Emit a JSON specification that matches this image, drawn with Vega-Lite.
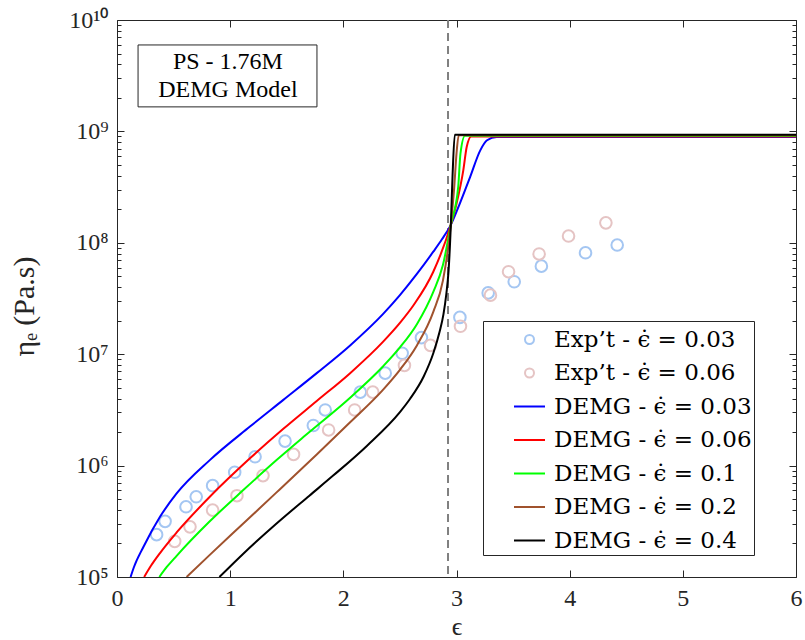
{
 "$schema": "https://vega.github.io/schema/vega-lite/v6.json",
 "width": 679,
 "height": 557,
 "autosize": {"type": "none"},
 "padding": {"left": 117, "top": 20, "right": 9, "bottom": 63},
 "background": "white",
 "config": {
  "view": {"stroke": null},
  "font": "Liberation Serif",
  "axis": {"grid": false, "domainColor": "#262626", "tickColor": "#262626", "labelColor": "#262626", "titleColor": "#262626", "labelFont": "Liberation Serif", "titleFont": "Liberation Serif", "labelFontSize": 24, "titleFontWeight": "normal", "domainWidth": 1, "tickWidth": 1, "labelOverlap": false, "labelFlush": false}
 },
 "datasets": {
  "box": [{"x": 0.186, "x2": 1.767, "y": 1.66e9, "y2": 5.97e9}],
  "note": [{"x": 0.98, "y": 4.2e9, "label": "PS - 1.76M"}, {"x": 0.98, "y": 2.36e9, "label": "DEMG Model"}],
  "vline": [{"x": 2.925}],
  "frame": [{"x": 0, "y": 1e5}, {"x": 6, "y": 1e10}],
  "exp": [
   {"series": "Exp\u2019t - \u03f5\u0307 = 0.03", "x": 0.35, "y": 2.40e5},
   {"series": "Exp\u2019t - \u03f5\u0307 = 0.03", "x": 0.425, "y": 3.16e5},
   {"series": "Exp\u2019t - \u03f5\u0307 = 0.03", "x": 0.61, "y": 4.27e5},
   {"series": "Exp\u2019t - \u03f5\u0307 = 0.03", "x": 0.70, "y": 5.25e5},
   {"series": "Exp\u2019t - \u03f5\u0307 = 0.03", "x": 0.845, "y": 6.61e5},
   {"series": "Exp\u2019t - \u03f5\u0307 = 0.03", "x": 1.04, "y": 8.71e5},
   {"series": "Exp\u2019t - \u03f5\u0307 = 0.03", "x": 1.22, "y": 1.20e6},
   {"series": "Exp\u2019t - \u03f5\u0307 = 0.03", "x": 1.485, "y": 1.66e6},
   {"series": "Exp\u2019t - \u03f5\u0307 = 0.03", "x": 1.735, "y": 2.29e6},
   {"series": "Exp\u2019t - \u03f5\u0307 = 0.03", "x": 1.84, "y": 3.16e6},
   {"series": "Exp\u2019t - \u03f5\u0307 = 0.03", "x": 2.15, "y": 4.57e6},
   {"series": "Exp\u2019t - \u03f5\u0307 = 0.03", "x": 2.37, "y": 6.76e6},
   {"series": "Exp\u2019t - \u03f5\u0307 = 0.03", "x": 2.52, "y": 1.02e7},
   {"series": "Exp\u2019t - \u03f5\u0307 = 0.03", "x": 2.69, "y": 1.41e7},
   {"series": "Exp\u2019t - \u03f5\u0307 = 0.03", "x": 3.03, "y": 2.14e7},
   {"series": "Exp\u2019t - \u03f5\u0307 = 0.03", "x": 3.28, "y": 3.55e7},
   {"series": "Exp\u2019t - \u03f5\u0307 = 0.03", "x": 3.51, "y": 4.47e7},
   {"series": "Exp\u2019t - \u03f5\u0307 = 0.03", "x": 3.75, "y": 6.17e7},
   {"series": "Exp\u2019t - \u03f5\u0307 = 0.03", "x": 4.14, "y": 8.13e7},
   {"series": "Exp\u2019t - \u03f5\u0307 = 0.03", "x": 4.42, "y": 9.55e7},
   {"series": "Exp\u2019t - \u03f5\u0307 = 0.06", "x": 0.51, "y": 2.09e5},
   {"series": "Exp\u2019t - \u03f5\u0307 = 0.06", "x": 0.645, "y": 2.82e5},
   {"series": "Exp\u2019t - \u03f5\u0307 = 0.06", "x": 0.845, "y": 3.98e5},
   {"series": "Exp\u2019t - \u03f5\u0307 = 0.06", "x": 1.06, "y": 5.37e5},
   {"series": "Exp\u2019t - \u03f5\u0307 = 0.06", "x": 1.29, "y": 8.13e5},
   {"series": "Exp\u2019t - \u03f5\u0307 = 0.06", "x": 1.56, "y": 1.26e6},
   {"series": "Exp\u2019t - \u03f5\u0307 = 0.06", "x": 1.87, "y": 2.09e6},
   {"series": "Exp\u2019t - \u03f5\u0307 = 0.06", "x": 2.10, "y": 3.16e6},
   {"series": "Exp\u2019t - \u03f5\u0307 = 0.06", "x": 2.26, "y": 4.57e6},
   {"series": "Exp\u2019t - \u03f5\u0307 = 0.06", "x": 2.54, "y": 7.94e6},
   {"series": "Exp\u2019t - \u03f5\u0307 = 0.06", "x": 2.77, "y": 1.20e7},
   {"series": "Exp\u2019t - \u03f5\u0307 = 0.06", "x": 3.035, "y": 1.78e7},
   {"series": "Exp\u2019t - \u03f5\u0307 = 0.06", "x": 3.30, "y": 3.39e7},
   {"series": "Exp\u2019t - \u03f5\u0307 = 0.06", "x": 3.46, "y": 5.50e7},
   {"series": "Exp\u2019t - \u03f5\u0307 = 0.06", "x": 3.73, "y": 7.94e7},
   {"series": "Exp\u2019t - \u03f5\u0307 = 0.06", "x": 3.99, "y": 1.15e8},
   {"series": "Exp\u2019t - \u03f5\u0307 = 0.06", "x": 4.32, "y": 1.51e8}
  ],
  "lines": [
   {"series": "DEMG - \u03f5\u0307 = 0.03", "x": 0.12, "y": 1e5},
   {"series": "DEMG - \u03f5\u0307 = 0.03", "x": 0.15, "y": 1.23e5},
   {"series": "DEMG - \u03f5\u0307 = 0.03", "x": 0.233, "y": 1.86e5},
   {"series": "DEMG - \u03f5\u0307 = 0.03", "x": 0.38, "y": 3.47e5},
   {"series": "DEMG - \u03f5\u0307 = 0.03", "x": 0.527, "y": 5.62e5},
   {"series": "DEMG - \u03f5\u0307 = 0.03", "x": 0.82, "y": 1.12e6},
   {"series": "DEMG - \u03f5\u0307 = 0.03", "x": 1.175, "y": 2.24e6},
   {"series": "DEMG - \u03f5\u0307 = 0.03", "x": 1.47, "y": 3.89e6},
   {"series": "DEMG - \u03f5\u0307 = 0.03", "x": 1.765, "y": 6.76e6},
   {"series": "DEMG - \u03f5\u0307 = 0.03", "x": 2.06, "y": 1.20e7},
   {"series": "DEMG - \u03f5\u0307 = 0.03", "x": 2.35, "y": 2.29e7},
   {"series": "DEMG - \u03f5\u0307 = 0.03", "x": 2.5, "y": 3.39e7},
   {"series": "DEMG - \u03f5\u0307 = 0.03", "x": 2.65, "y": 5.25e7},
   {"series": "DEMG - \u03f5\u0307 = 0.03", "x": 2.795, "y": 8.32e7},
   {"series": "DEMG - \u03f5\u0307 = 0.03", "x": 2.87, "y": 1.07e8},
   {"series": "DEMG - \u03f5\u0307 = 0.03", "x": 2.95, "y": 1.45e8},
   {"series": "DEMG - \u03f5\u0307 = 0.03", "x": 3.03, "y": 2.26e8},
   {"series": "DEMG - \u03f5\u0307 = 0.03", "x": 3.12, "y": 3.89e8},
   {"series": "DEMG - \u03f5\u0307 = 0.03", "x": 3.21, "y": 6.76e8},
   {"series": "DEMG - \u03f5\u0307 = 0.03", "x": 3.27, "y": 8.32e8},
   {"series": "DEMG - \u03f5\u0307 = 0.03", "x": 3.355, "y": 8.91e8},
   {"series": "DEMG - \u03f5\u0307 = 0.03", "x": 6, "y": 8.91e8},
   {"series": "DEMG - \u03f5\u0307 = 0.06", "x": 0.24, "y": 1e5},
   {"series": "DEMG - \u03f5\u0307 = 0.06", "x": 0.30, "y": 1.26e5},
   {"series": "DEMG - \u03f5\u0307 = 0.06", "x": 0.38, "y": 1.64e5},
   {"series": "DEMG - \u03f5\u0307 = 0.06", "x": 0.527, "y": 2.51e5},
   {"series": "DEMG - \u03f5\u0307 = 0.06", "x": 0.82, "y": 5.25e5},
   {"series": "DEMG - \u03f5\u0307 = 0.06", "x": 1.17, "y": 1.15e6},
   {"series": "DEMG - \u03f5\u0307 = 0.06", "x": 1.47, "y": 2.14e6},
   {"series": "DEMG - \u03f5\u0307 = 0.06", "x": 1.765, "y": 3.80e6},
   {"series": "DEMG - \u03f5\u0307 = 0.06", "x": 2.06, "y": 6.76e6},
   {"series": "DEMG - \u03f5\u0307 = 0.06", "x": 2.35, "y": 1.29e7},
   {"series": "DEMG - \u03f5\u0307 = 0.06", "x": 2.5, "y": 1.91e7},
   {"series": "DEMG - \u03f5\u0307 = 0.06", "x": 2.62, "y": 2.75e7},
   {"series": "DEMG - \u03f5\u0307 = 0.06", "x": 2.795, "y": 5.50e7},
   {"series": "DEMG - \u03f5\u0307 = 0.06", "x": 2.95, "y": 1.45e8},
   {"series": "DEMG - \u03f5\u0307 = 0.06", "x": 3.0, "y": 2.24e8},
   {"series": "DEMG - \u03f5\u0307 = 0.06", "x": 3.06, "y": 4.47e8},
   {"series": "DEMG - \u03f5\u0307 = 0.06", "x": 3.09, "y": 7.24e8},
   {"series": "DEMG - \u03f5\u0307 = 0.06", "x": 3.13, "y": 9.02e8},
   {"series": "DEMG - \u03f5\u0307 = 0.06", "x": 6, "y": 9.02e8},
   {"series": "DEMG - \u03f5\u0307 = 0.1", "x": 0.374, "y": 1e5},
   {"series": "DEMG - \u03f5\u0307 = 0.1", "x": 0.44, "y": 1.23e5},
   {"series": "DEMG - \u03f5\u0307 = 0.1", "x": 0.527, "y": 1.55e5},
   {"series": "DEMG - \u03f5\u0307 = 0.1", "x": 0.82, "y": 3.16e5},
   {"series": "DEMG - \u03f5\u0307 = 0.1", "x": 1.116, "y": 6.03e5},
   {"series": "DEMG - \u03f5\u0307 = 0.1", "x": 1.41, "y": 1.12e6},
   {"series": "DEMG - \u03f5\u0307 = 0.1", "x": 1.70, "y": 2.00e6},
   {"series": "DEMG - \u03f5\u0307 = 0.1", "x": 2.06, "y": 4.07e6},
   {"series": "DEMG - \u03f5\u0307 = 0.1", "x": 2.35, "y": 7.76e6},
   {"series": "DEMG - \u03f5\u0307 = 0.1", "x": 2.5, "y": 1.15e7},
   {"series": "DEMG - \u03f5\u0307 = 0.1", "x": 2.65, "y": 1.86e7},
   {"series": "DEMG - \u03f5\u0307 = 0.1", "x": 2.795, "y": 3.63e7},
   {"series": "DEMG - \u03f5\u0307 = 0.1", "x": 2.88, "y": 6.31e7},
   {"series": "DEMG - \u03f5\u0307 = 0.1", "x": 2.95, "y": 1.45e8},
   {"series": "DEMG - \u03f5\u0307 = 0.1", "x": 3.015, "y": 3.16e8},
   {"series": "DEMG - \u03f5\u0307 = 0.1", "x": 3.035, "y": 6.31e8},
   {"series": "DEMG - \u03f5\u0307 = 0.1", "x": 3.075, "y": 9.12e8},
   {"series": "DEMG - \u03f5\u0307 = 0.1", "x": 6, "y": 9.12e8},
   {"series": "DEMG - \u03f5\u0307 = 0.2", "x": 0.615, "y": 1e5},
   {"series": "DEMG - \u03f5\u0307 = 0.2", "x": 0.82, "y": 1.58e5},
   {"series": "DEMG - \u03f5\u0307 = 0.2", "x": 1.116, "y": 3.02e5},
   {"series": "DEMG - \u03f5\u0307 = 0.2", "x": 1.41, "y": 5.75e5},
   {"series": "DEMG - \u03f5\u0307 = 0.2", "x": 1.765, "y": 1.26e6},
   {"series": "DEMG - \u03f5\u0307 = 0.2", "x": 2.06, "y": 2.45e6},
   {"series": "DEMG - \u03f5\u0307 = 0.2", "x": 2.35, "y": 4.79e6},
   {"series": "DEMG - \u03f5\u0307 = 0.2", "x": 2.5, "y": 7.24e6},
   {"series": "DEMG - \u03f5\u0307 = 0.2", "x": 2.65, "y": 1.20e7},
   {"series": "DEMG - \u03f5\u0307 = 0.2", "x": 2.795, "y": 2.40e7},
   {"series": "DEMG - \u03f5\u0307 = 0.2", "x": 2.88, "y": 4.57e7},
   {"series": "DEMG - \u03f5\u0307 = 0.2", "x": 2.95, "y": 1.45e8},
   {"series": "DEMG - \u03f5\u0307 = 0.2", "x": 2.98, "y": 3.16e8},
   {"series": "DEMG - \u03f5\u0307 = 0.2", "x": 3.0, "y": 6.31e8},
   {"series": "DEMG - \u03f5\u0307 = 0.2", "x": 3.02, "y": 9.23e8},
   {"series": "DEMG - \u03f5\u0307 = 0.2", "x": 6, "y": 9.23e8},
   {"series": "DEMG - \u03f5\u0307 = 0.4", "x": 0.905, "y": 1e5},
   {"series": "DEMG - \u03f5\u0307 = 0.4", "x": 1.116, "y": 1.62e5},
   {"series": "DEMG - \u03f5\u0307 = 0.4", "x": 1.41, "y": 3.02e5},
   {"series": "DEMG - \u03f5\u0307 = 0.4", "x": 1.70, "y": 5.37e5},
   {"series": "DEMG - \u03f5\u0307 = 0.4", "x": 1.91, "y": 8.13e5},
   {"series": "DEMG - \u03f5\u0307 = 0.4", "x": 2.21, "y": 1.51e6},
   {"series": "DEMG - \u03f5\u0307 = 0.4", "x": 2.50, "y": 3.02e6},
   {"series": "DEMG - \u03f5\u0307 = 0.4", "x": 2.59, "y": 3.98e6},
   {"series": "DEMG - \u03f5\u0307 = 0.4", "x": 2.71, "y": 6.31e6},
   {"series": "DEMG - \u03f5\u0307 = 0.4", "x": 2.795, "y": 1.02e7},
   {"series": "DEMG - \u03f5\u0307 = 0.4", "x": 2.85, "y": 1.58e7},
   {"series": "DEMG - \u03f5\u0307 = 0.4", "x": 2.885, "y": 2.29e7},
   {"series": "DEMG - \u03f5\u0307 = 0.4", "x": 2.91, "y": 3.47e7},
   {"series": "DEMG - \u03f5\u0307 = 0.4", "x": 2.93, "y": 5.62e7},
   {"series": "DEMG - \u03f5\u0307 = 0.4", "x": 2.95, "y": 1.45e8},
   {"series": "DEMG - \u03f5\u0307 = 0.4", "x": 2.965, "y": 3.98e8},
   {"series": "DEMG - \u03f5\u0307 = 0.4", "x": 2.985, "y": 9.33e8},
   {"series": "DEMG - \u03f5\u0307 = 0.4", "x": 6, "y": 9.33e8}
  ]
 },
 "layer": [
  {
   "layer": [
    {
     "data": {"name": "box"},
     "mark": {"type": "rect", "fill": "white", "stroke": "#262626", "strokeWidth": 1},
     "encoding": {
      "x": {"field": "x", "type": "quantitative", "scale": {"domain": [0, 6]},
       "axis": {"values": [0, 1, 2, 3, 4, 5, 6], "format": "d", "title": "\u03f5", "titleFontSize": 26, "titleY": 57, "titleBaseline": "alphabetic", "tickSize": -7, "labelPadding": 16}},
      "x2": {"field": "x2"},
      "y": {"field": "y", "type": "quantitative", "scale": {"type": "log", "domain": [1e5, 1e10]},
       "axis": {
        "values": [1e5, 2e5, 3e5, 4e5, 5e5, 6e5, 7e5, 8e5, 9e5, 1e6, 2e6, 3e6, 4e6, 5e6, 6e6, 7e6, 8e6, 9e6, 1e7, 2e7, 3e7, 4e7, 5e7, 6e7, 7e7, 8e7, 9e7, 1e8, 2e8, 3e8, 4e8, 5e8, 6e8, 7e8, 8e8, 9e8, 1e9, 2e9, 3e9, 4e9, 5e9, 6e9, 7e9, 8e9, 9e9, 1e10],
        "labelExpr": "datum.value==1e5?'10\u2075':datum.value==1e6?'10\u2076':datum.value==1e7?'10\u2077':datum.value==1e8?'10\u2078':datum.value==1e9?'10\u2079':datum.value==1e10?'10\u00b9\u2070':''",
        "tickSize": {"condition": {"test": "datum.value==1e5||datum.value==1e6||datum.value==1e7||datum.value==1e8||datum.value==1e9||datum.value==1e10", "value": -7}, "value": -4},
        "labelPadding": 16,
        "title": "\u03b7\u2091 (Pa.s)", "titleFontSize": 30, "titleAngle": -90, "titleX": -84, "titleY": 286, "titleAlign": "center", "titleBaseline": "alphabetic"
       }},
      "y2": {"field": "y2"}
     }
    },
    {
     "data": {"name": "note"},
     "mark": {"type": "text", "font": "Liberation Serif", "fontSize": 24, "color": "#000000", "baseline": "middle"},
     "encoding": {
      "x": {"field": "x", "type": "quantitative"},
      "y": {"field": "y", "type": "quantitative"},
      "text": {"field": "label"}
     }
    },
    {
     "data": {"name": "vline"},
     "mark": {"type": "rule", "color": "#808080", "strokeWidth": 2, "strokeDash": [8, 5]},
     "encoding": {"x": {"field": "x", "type": "quantitative"}}
    },
    {
     "data": {"name": "exp"},
     "mark": {"type": "point", "filled": false, "strokeWidth": 2, "opacity": 1, "size": 1600},
     "encoding": {
      "x": {"field": "x", "type": "quantitative"},
      "y": {"field": "y", "type": "quantitative"},
      "color": {"field": "series", "type": "nominal",
       "scale": {"domain": ["Exp\u2019t - \u03f5\u0307 = 0.03", "Exp\u2019t - \u03f5\u0307 = 0.06", "DEMG - \u03f5\u0307 = 0.03", "DEMG - \u03f5\u0307 = 0.06", "DEMG - \u03f5\u0307 = 0.1", "DEMG - \u03f5\u0307 = 0.2", "DEMG - \u03f5\u0307 = 0.4"],
                 "range": ["#a4c6f2", "#e5c4c4", "#0000ff", "#ff0000", "#00ff00", "#a0522d", "#000000"]},
       "legend": {"orient": "none", "legendX": 366, "legendY": 301, "title": null, "padding": 2, "symbolSize": 961, "symbolStrokeWidth": 2, "symbolOffset": 28, "labelOffset": 8, "labelFont": "DejaVu Serif", "labelFontSize": 23, "labelColor": "#000000", "labelLimit": 400, "rowPadding": 4.5, "strokeColor": "#262626", "fillColor": "white"}},
      "shape": {"field": "series", "type": "nominal",
       "scale": {"domain": ["Exp\u2019t - \u03f5\u0307 = 0.03", "Exp\u2019t - \u03f5\u0307 = 0.06", "DEMG - \u03f5\u0307 = 0.03", "DEMG - \u03f5\u0307 = 0.06", "DEMG - \u03f5\u0307 = 0.1", "DEMG - \u03f5\u0307 = 0.2", "DEMG - \u03f5\u0307 = 0.4"],
                 "range": ["M0.29,0A0.29,0.29 0 1,1 -0.29,0A0.29,0.29 0 1,1 0.29,0Z", "M0.29,0A0.29,0.29 0 1,1 -0.29,0A0.29,0.29 0 1,1 0.29,0Z", "M-1,0L1,0", "M-1,0L1,0", "M-1,0L1,0", "M-1,0L1,0", "M-1,0L1,0"]},
       "legend": {"orient": "none", "legendX": 366, "legendY": 301, "title": null, "padding": 2, "symbolSize": 961, "symbolStrokeWidth": 2, "symbolOffset": 28, "labelOffset": 8, "labelFont": "DejaVu Serif", "labelFontSize": 23, "labelColor": "#000000", "labelLimit": 400, "rowPadding": 4.5, "strokeColor": "#262626", "fillColor": "white"}}
     }
    },
    {
     "data": {"name": "lines"},
     "mark": {"type": "line", "strokeWidth": 2, "interpolate": "monotone", "clip": true},
     "encoding": {
      "x": {"field": "x", "type": "quantitative"},
      "y": {"field": "y", "type": "quantitative"},
      "color": {"field": "series", "type": "nominal", "legend": null}
     }
    }
   ]
  },
  {
   "data": {"name": "frame"},
   "mark": {"type": "point", "opacity": 0},
   "encoding": {
    "x": {"field": "x", "type": "quantitative", "scale": {"domain": [0, 6]},
     "axis": {"orient": "top", "values": [0, 1, 2, 3, 4, 5, 6], "labels": false, "title": null, "tickSize": -7}},
    "y": {"field": "y", "type": "quantitative", "scale": {"type": "log", "domain": [1e5, 1e10]},
     "axis": {"orient": "right", "labels": false, "title": null,
      "values": [1e5, 2e5, 3e5, 4e5, 5e5, 6e5, 7e5, 8e5, 9e5, 1e6, 2e6, 3e6, 4e6, 5e6, 6e6, 7e6, 8e6, 9e6, 1e7, 2e7, 3e7, 4e7, 5e7, 6e7, 7e7, 8e7, 9e7, 1e8, 2e8, 3e8, 4e8, 5e8, 6e8, 7e8, 8e8, 9e8, 1e9, 2e9, 3e9, 4e9, 5e9, 6e9, 7e9, 8e9, 9e9, 1e10],
      "tickSize": {"condition": {"test": "datum.value==1e5||datum.value==1e6||datum.value==1e7||datum.value==1e8||datum.value==1e9||datum.value==1e10", "value": -7}, "value": -4}}}
   }
  }
 ],
 "resolve": {"scale": {"x": "independent", "y": "independent"}}
}
